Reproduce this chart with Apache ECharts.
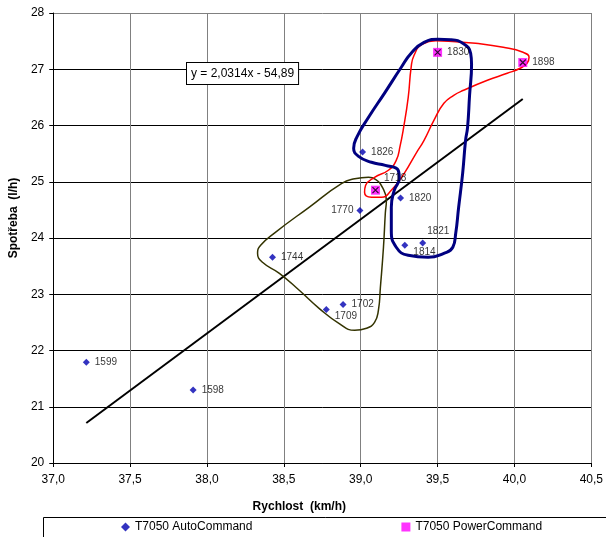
<!DOCTYPE html>
<html>
<head>
<meta charset="utf-8">
<script src="https://cdn.jsdelivr.net/npm/echarts@6/dist/echarts.min.js"></script>
<style>
html,body{margin:0;padding:0;background:#fff;}
#chart{width:606px;height:537px;}
</style>
</head>
<body>
<div id="chart"></div>
<script>
// ---- data ----
var autoName = 'T7050 AutoCommand';
var powerName = 'T7050 PowerCommand';
var autoIds = ['1599','1598','1744','1709','1702','1770','1826','1820','1814','1821'];
var autoX   = [37.215, 37.91, 38.426, 38.776, 38.885, 38.995, 39.012, 39.259, 39.287, 39.403];
var autoY   = [21.79, 21.30, 23.66, 22.73, 22.82, 24.49, 25.53, 24.71, 23.87, 23.91];
var powerIds = ['1718','1830','1898'];
var powerX   = [39.096, 39.50, 40.054];
var powerY   = [24.85, 27.30, 27.12];
var trendX = [37.215, 40.054];
var trendY = [20.71, 26.47];
var trendText = 'y = 2,0314x - 54,89';
var xTicks = [37.0, 37.5, 38.0, 38.5, 39.0, 39.5, 40.0, 40.5];
var yTicks = [20, 21, 22, 23, 24, 25, 26, 27, 28];
// hand-drawn outlines (data coordinates)
var blueLoopX = [39.502,39.586,39.669,39.715,39.721,39.708,39.695,39.682,39.663,39.637,39.618,39.599,39.541,39.438,39.309,39.231,39.199,39.199,39.218,39.251,39.244,39.160,39.070,38.986,38.954,38.974,39.051,39.154,39.264,39.328,39.412];
var blueLoopY = [27.532,27.524,27.452,27.284,27.088,26.537,25.968,25.737,25.150,24.546,24.084,23.835,23.728,23.657,23.692,23.835,24.137,24.546,24.848,25.061,25.204,25.292,25.346,25.452,25.595,25.790,26.146,26.572,27.035,27.284,27.479];
var redLoopX = [39.399,39.489,39.618,39.747,39.927,40.056,40.095,40.082,40.037,39.953,39.824,39.669,39.605,39.541,39.476,39.412,39.360,39.283,39.199,39.135,39.070,39.025,39.032,39.090,39.180,39.231,39.257,39.276,39.309,39.328,39.347];
var redLoopY = [27.444,27.506,27.488,27.461,27.390,27.301,27.212,27.106,27.017,26.928,26.804,26.626,26.537,26.395,26.092,25.737,25.506,25.150,24.848,24.724,24.724,24.812,24.937,25.079,25.204,25.381,25.648,25.915,26.501,27.035,27.248];
var oliveLoopX = [39.051,38.961,38.877,38.664,38.445,38.349,38.329,38.361,38.471,38.600,38.729,38.858,38.961,39.038,39.090,39.115,39.128,39.148,39.160,39.167,39.141,39.096];
var oliveLoopY = [25.079,25.052,24.972,24.546,24.101,23.870,23.728,23.568,23.372,23.070,22.750,22.484,22.359,22.395,22.501,22.715,23.124,23.835,24.439,24.670,24.901,25.044];

// ---- build ----
var FONT = "'Liberation Sans', Arial, sans-serif";
var labelTweaks = {
  '1770': {position: 'left', distance: 3},
  '1709': {position: 'right', offset: [0, 7]},
  '1814': {position: 'right', offset: [0, 7]},
  '1821': {position: 'right', offset: [-4, -12]},
  '1718': {position: 'right', offset: [-1, -12]}
};
function pts(xs, ys, ids) {
  return xs.map(function (x, i) {
    var d = {value: [x, ys[i]]};
    if (ids) {
      d.name = ids[i];
      if (labelTweaks[ids[i]]) d.label = labelTweaks[ids[i]];
    }
    return d;
  });
}
function loop(xs, ys) {
  var a = xs.map(function (x, i) { return [x, ys[i]]; });
  a.push(a[0]);
  a.push(a[1]);
  return a;
}
function fmt(v) { return v.toFixed(1).replace('.', ','); }

var ptLabel = {
  show: true, position: 'right', distance: 5,
  formatter: function (p) { return p.name; },
  fontFamily: FONT, fontSize: 10, color: '#000'
};
var yLineColors = yTicks.map(function (t, i) { return i === yTicks.length - 1 ? '#808080' : '#000'; });

var chart = echarts.init(document.getElementById('chart'), null, {renderer: 'canvas'});
chart.setOption({
  animation: false,
  backgroundColor: '#fff',
  textStyle: {fontFamily: FONT},
  grid: {left: 49, top: 13, right: 14, bottom: 74, containLabel: false},
  xAxis: {
    type: 'value', min: xTicks[0], max: xTicks[xTicks.length - 1], interval: 0.5,
    name: 'Rychlost  (km/h)', nameLocation: 'middle', nameGap: 38,
    nameTextStyle: {fontFamily: FONT, fontSize: 12, fontWeight: 'bold', color: '#000', padding: [0, 46, 0, 0]},
    axisLine: {lineStyle: {color: '#000', width: 1}},
    axisTick: {show: true, length: 4, inside: false, lineStyle: {color: '#000'}},
    axisLabel: {formatter: fmt, fontFamily: FONT, fontSize: 12, color: '#000', margin: 11},
    splitLine: {show: true, lineStyle: {color: '#808080', width: 1}}
  },
  yAxis: {
    type: 'value', min: yTicks[0], max: yTicks[yTicks.length - 1], interval: 1,
    name: 'Spotřeba  (l/h)', nameLocation: 'middle', nameGap: 33, nameRotate: 90,
    nameTextStyle: {fontFamily: FONT, fontSize: 12, fontWeight: 'bold', color: '#000', padding: [0, 0, 0, 40]},
    axisLine: {show: true, lineStyle: {color: '#000', width: 1}},
    axisTick: {show: true, length: 4, inside: false, lineStyle: {color: '#000'}},
    axisLabel: {fontFamily: FONT, fontSize: 12, color: '#000', margin: 9},
    splitLine: {show: true, lineStyle: {color: yLineColors, width: 1}}
  },
  legend: {
    data: [
      {name: autoName, icon: 'diamond', itemStyle: {color: '#0000b0'}},
      {name: powerName, icon: 'rect', itemStyle: {color: '#ff00ff'}}
    ],
    left: 121, top: 521, width: 480,
    padding: 0,
    itemGap: 149, itemWidth: 9, itemHeight: 9,
    textStyle: {fontFamily: FONT, fontSize: 12, color: '#000'},
    selectedMode: false
  },
  graphic: [{
    type: 'rect', z: 0,
    shape: {x: 43.5, y: 517.5, width: 600, height: 40},
    style: {fill: '#fff', stroke: '#000', lineWidth: 1}
  }, {
    type: 'text', left: 186, top: 62, z: 100,
    style: {
      text: trendText, font: '12px ' + FONT, fill: '#000',
      backgroundColor: '#fff', borderColor: '#000', borderWidth: 1,
      padding: [5, 4, 4, 4]
    }
  }],
  series: [
    {type: 'line', name: 'trend', data: pts(trendX, trendY), showSymbol: false, symbol: 'none',
      lineStyle: {color: '#000', width: 2}, z: 3, silent: true},
    {type: 'line', name: 'olive', data: loop(oliveLoopX, oliveLoopY), smooth: 0.5, showSymbol: false, symbol: 'none',
      lineStyle: {color: '#333300', width: 1.5}, z: 4, silent: true},
    {type: 'line', name: 'red', data: loop(redLoopX, redLoopY), smooth: 0.5, showSymbol: false, symbol: 'none',
      lineStyle: {color: '#ff0000', width: 1.5}, z: 4, silent: true},
    {type: 'line', name: 'blue', data: loop(blueLoopX, blueLoopY), smooth: 0.5, showSymbol: false, symbol: 'none',
      lineStyle: {color: '#000080', width: 3}, z: 5, silent: true},
    {type: 'scatter', name: autoName, data: pts(autoX, autoY, autoIds), symbol: 'diamond', symbolSize: 7,
      itemStyle: {color: '#0000b0'}, label: ptLabel, z: 6},
    {type: 'scatter', name: powerName, data: pts(powerX, powerY, powerIds), symbol: 'rect', symbolSize: 9,
      itemStyle: {color: '#ff00ff'}, label: ptLabel, z: 6},
    {type: 'scatter', name: 'powerMark', data: pts(powerX, powerY), symbol: 'path://M0,0L10,10M10,0L0,10', symbolSize: 6,
      itemStyle: {color: 'rgba(0,0,0,0)', borderColor: '#000', borderWidth: 1.2}, z: 7, silent: true}
  ]
});
</script>
</body>
</html>
